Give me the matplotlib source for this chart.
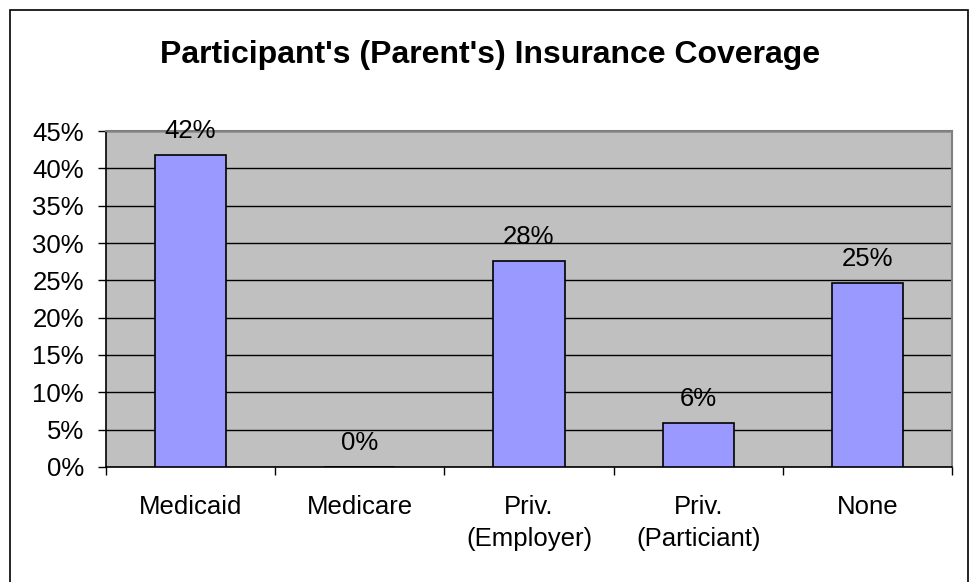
import matplotlib.pyplot as plt
from matplotlib.patches import Rectangle

plt.rcParams["font.family"] = ["Liberation Sans", "DejaVu Sans"]

categories = ["Medicaid", "Medicare", "Priv.\n(Employer)", "Priv.\n(Particiant)", "None"]
shares = [41.8, 0.0, 27.6, 5.9, 24.7]
y_ticks = [0, 5, 10, 15, 20, 25, 30, 35, 40, 45]

fig = plt.figure(figsize=(9.73, 5.82), dpi=100)
ax = fig.add_axes([106 / 973, 1 - 467 / 582, 846 / 973, 336 / 582])

ax.set_facecolor("#c0c0c0")
x = range(len(categories))
ax.bar(x, shares, width=0.42, color="#9999ff", edgecolor="black", linewidth=1.2, zorder=3)

# etykiety wartości nad słupkami
for xi, v in zip(x, shares):
    ax.annotate(f"{v:.0f}%", (xi, v), xytext=(0, 12), textcoords="offset points",
                ha="center", va="baseline", fontsize=18.5, zorder=4)

ax.set_xlim(-0.5, len(categories) - 0.5)
ax.set_ylim(0, 45)
ax.set_yticks(y_ticks)
ax.set_yticklabels([f"{t}%" for t in y_ticks])
ax.yaxis.grid(True, color="black", linewidth=1.0, zorder=1)
ax.set_axisbelow(True)

ax.set_xticks(x)
ax.set_xticklabels(categories, linespacing=1.45)
ax.set_xticks([i - 0.5 for i in range(len(categories) + 1)], minor=True)
ax.tick_params(axis="x", which="major", length=0, labelsize=18.5, pad=20)
ax.tick_params(axis="x", which="minor", length=6, width=1, direction="out")
ax.tick_params(axis="y", length=6, width=1, direction="out", labelsize=18.5, pad=10)

for side in ("top", "right"):
    ax.spines[side].set_color("#808080")
    ax.spines[side].set_linewidth(1.5)
for side in ("left", "bottom"):
    ax.spines[side].set_color("black")
    ax.spines[side].set_linewidth(1.2)

fig.text(490 / 973, 1 - 55 / 582, "Participant's (Parent's) Insurance Coverage",
         ha="center", va="center", fontsize=23, fontweight="bold")

# ramka wokół całego wykresu
fig.patches.append(Rectangle((10 / 973, -0.05), 958 / 973, 1.05 - 10 / 582,
                             transform=fig.transFigure, fill=False,
                             edgecolor="black", linewidth=1.2))

fig.savefig("out.png", dpi=100)
